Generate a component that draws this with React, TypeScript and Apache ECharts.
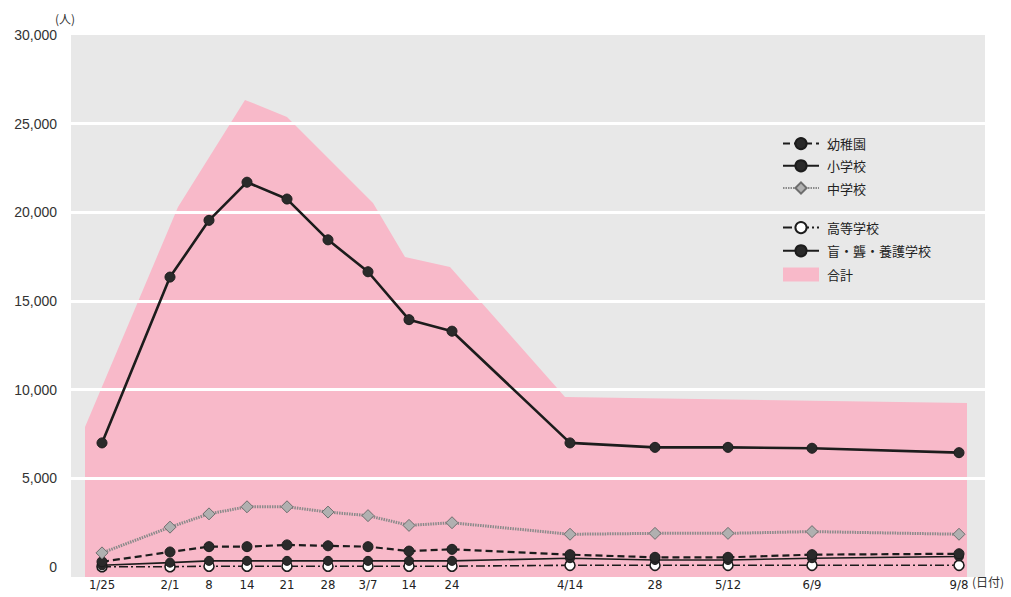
import React, { useEffect, useRef } from "react";
import * as echarts from "echarts";

// x positions of the survey dates along the (irregularly spaced) date axis
const dateLabels = ["1/25", "2/1", "8", "14", "21", "28", "3/7", "14", "24", "4/14", "28", "5/12", "6/9", "9/8"];
const datePos = [3.1, 9.9, 13.8, 17.6, 21.6, 25.7, 29.7, 33.8, 38.1, 49.9, 58.4, 65.7, 74.1, 88.8];
const xMax = 91.4;

const kindergarten = [300, 850, 1150, 1150, 1250, 1200, 1150, 900, 1000, 700, 550, 550, 700, 750];
const elementary = [7000, 16350, 19550, 21700, 20750, 18450, 16650, 13950, 13300, 7000, 6750, 6750, 6700, 6450];
const juniorHigh = [800, 2250, 3000, 3400, 3400, 3100, 2900, 2350, 2500, 1850, 1900, 1900, 2000, 1850];
const highSchool = [20, 20, 50, 50, 50, 50, 50, 50, 50, 100, 100, 100, 100, 100];
const special = [100, 250, 350, 350, 350, 350, 350, 350, 350, 500, 400, 400, 500, 600];

// outline of the pink "total" band
const totalPos = [1.4, 10.7, 17.4, 21.6, 30.2, 33.4, 37.9, 49.4, 89.6];
const totalVals = [7900, 20300, 26340, 25380, 20530, 17480, 16920, 9590, 9250];

const yTicks = [0, 5000, 10000, 15000, 20000, 25000, 30000];
const gridLines = [5000, 10000, 15000, 20000, 25000];
const yMin = -560;
const yMax = 30000;

const pair = (vals: number[]) => datePos.map((x, i) => [x, vals[i]]);

const INK = "#1c1c1c";
const PINK = "#f8b9c9";
const JP = "'Noto Sans CJK JP', 'Noto Sans', sans-serif";

export default function App() {
  const ref = useRef<HTMLDivElement>(null);
  useEffect(() => {
    if (!ref.current) return;
    const chart = echarts.init(ref.current, undefined, { renderer: "svg" });
    const legendText = { fontSize: 13, color: "#222", fontFamily: JP, padding: [0, 0, 0, 3] };
    const option: any = {
      animation: false,
      backgroundColor: "#ffffff",
      grid: {
        left: 71,
        right: 26,
        top: 35,
        bottom: 20,
        show: true,
        backgroundColor: "#e8e8e8",
        borderWidth: 0,
      },
      xAxis: {
        type: "value",
        min: 0,
        max: xMax,
        axisLine: { show: false },
        axisTick: { show: false },
        splitLine: { show: false },
        axisLabel: {
          customValues: datePos,
          formatter: (v: number) => {
            const i = datePos.indexOf(v);
            return i >= 0 ? dateLabels[i] : "";
          },
          margin: 1,
          fontSize: 13,
          color: "#222",
          fontFamily: "'Liberation Sans Narrow', 'DejaVu Sans Condensed', 'Liberation Sans', sans-serif",
        },
      },
      yAxis: {
        type: "value",
        min: yMin,
        max: yMax,
        axisLine: { show: false },
        axisTick: { show: false },
        splitLine: { show: false },
        axisLabel: {
          customValues: yTicks,
          formatter: (v: number) => v.toLocaleString("en-US"),
          margin: 14,
          fontSize: 14,
          color: "#333",
          fontFamily: "'Liberation Sans', Arial, sans-serif",
        },
      },
      legend: [
        {
          orient: "vertical",
          left: 777,
          top: 132,
          itemWidth: 36,
          itemHeight: 14,
          itemGap: 9,
          textStyle: legendText,
          data: ["幼稚園", "小学校", "中学校"],
        },
        {
          orient: "vertical",
          left: 777,
          top: 216,
          itemWidth: 36,
          itemHeight: 14,
          itemGap: 10,
          textStyle: legendText,
          data: ["高等学校", "盲・聾・養護学校", { name: "合計", icon: "rect" }],
        },
      ],
      graphic: [
        {
          type: "text",
          left: 55,
          top: 12,
          style: { text: "(人)", fontSize: 12, fill: "#333", fontFamily: JP },
        },
        {
          type: "text",
          left: 972,
          top: 575,
          style: { text: "(日付)", fontSize: 12, fill: "#333", fontFamily: JP },
        },
      ],
      series: [
        {
          name: "合計",
          type: "line",
          z: 1,
          data: totalPos.map((x, i) => [x, totalVals[i]]),
          symbol: "none",
          lineStyle: { width: 0, color: PINK },
          itemStyle: { color: PINK },
          areaStyle: { color: PINK, opacity: 1, origin: "start" },
          markLine: {
            silent: true,
            symbol: ["none", "none"],
            label: { show: false },
            lineStyle: { color: "#ffffff", width: 3, type: "solid" },
            data: gridLines.map((v) => ({ yAxis: v })),
          },
        },
        {
          name: "高等学校",
          type: "line",
          z: 6,
          data: pair(highSchool),
          symbol: "circle",
          symbolSize: 10,
          lineStyle: { color: INK, width: 1.6, type: [9, 3, 2, 3] },
          itemStyle: { color: "#ffffff", borderColor: INK, borderWidth: 1.6 },
        },
        {
          name: "盲・聾・養護学校",
          type: "line",
          z: 7,
          data: pair(special),
          symbol: "circle",
          symbolSize: 9,
          lineStyle: { color: INK, width: 1.6, type: "solid" },
          itemStyle: { color: "#2a2a2a", borderColor: INK, borderWidth: 1 },
        },
        {
          name: "幼稚園",
          type: "line",
          z: 8,
          data: pair(kindergarten),
          symbol: "circle",
          symbolSize: 10,
          lineStyle: { color: INK, width: 2.2, type: [7, 4] },
          itemStyle: { color: "#2a2a2a", borderColor: INK, borderWidth: 1 },
        },
        {
          name: "中学校",
          type: "line",
          z: 9,
          data: pair(juniorHigh),
          symbol: "diamond",
          symbolSize: 12,
          lineStyle: { color: "#8a8a8a", width: 3, type: [1.5, 1] },
          itemStyle: { color: "#b0b0b0", borderColor: "#6d6d6d", borderWidth: 1 },
        },
        {
          name: "小学校",
          type: "line",
          z: 10,
          data: pair(elementary),
          symbol: "circle",
          symbolSize: 10,
          lineStyle: { color: INK, width: 2.6, type: "solid" },
          itemStyle: { color: "#2a2a2a", borderColor: INK, borderWidth: 1 },
        },
      ],
    };
    chart.setOption(option);
    return () => chart.dispose();
  }, []);
  return (
    <div
      ref={ref}
      style={{ position: "fixed", left: 0, top: 0, width: 1011, height: 597 }}
    />
  );
}
